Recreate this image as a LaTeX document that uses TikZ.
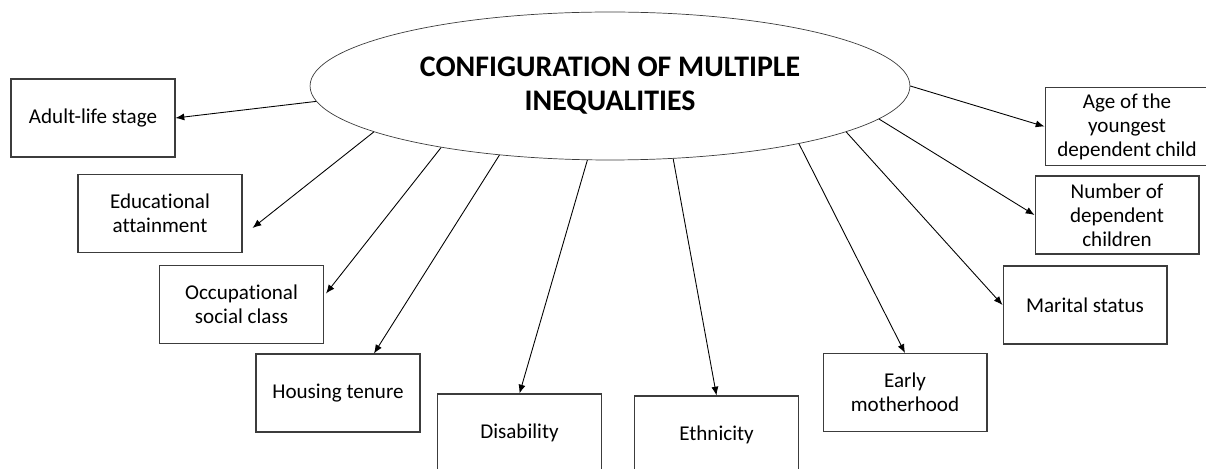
\documentclass[tikz,border=0pt]{standalone}
\usepackage{fontspec}
\setmainfont{Carlito}[Ligatures=NoCommon]
\usetikzlibrary{arrows.meta,calc,shapes.geometric}
\definecolor{boxgray}{RGB}{60,60,60}

\begin{document}
\begin{tikzpicture}[x=0.02cm,y=-0.02cm,
    factor/.style={draw=boxgray,line width=0.6pt,minimum width=3.28cm,minimum height=1.56cm,
      align=center,font=\fontsize{12}{13.6}\selectfont},
    link/.style={-{Latex[length=5pt,width=4pt]},line width=0.5pt}]
\useasboundingbox (0,0) rectangle (1206,469);

% Central ellipse
\node[draw=boxgray,ellipse,minimum width=12cm,minimum height=2.96cm,align=center,
  font=\fontsize{17}{19.3}\selectfont\bfseries] (conf) at (610,86)
  {CONFIGURATION OF MULTIPLE\\INEQUALITIES};

% Left side factors
\node[factor] (adult) at (93,118) {Adult-life stage};
\node[factor] (edu) at (160,213.5) {Educational\\attainment};
\node[factor] (occ) at (241.5,304.5) {Occupational\\social class};
\node[factor] (house) at (338,393) {Housing tenure};

% Bottom factors
\node[factor] (dis) at (519.5,433) {Disability};
\node[factor] (eth) at (716.5,435) {Ethnicity};
\node[factor] (early) at (905,392.5) {Early\\motherhood};

% Right side factors
\node[factor] (mar) at (1085,305) {Marital status};
\node[factor] (num) at (1117,215) {Number of\\dependent\\children};
\node[factor] (age) at (1127,126.5) {Age of the\\youngest\\dependent child};

% Arrows out of the ellipse
\draw[link] (conf.183) -- (adult.east);
\draw[link] (conf.191) -- ($(edu.east)+(10,14.5)$);
\draw[link] (conf.200) -- ($(occ.east)+(2,-11)$);
\draw[link] (conf.212) -- ($(house.north)+(36,0)$);
\draw[link] (conf.253) -- (dis.north);
\draw[link] (conf.311) -- (eth.north);
\draw[link] (conf.343) -- (early.north);
\draw[link] (conf.349) -- (mar.west);
\draw[link] (conf.353) -- (num.west);
\draw[link] (conf.0) -- (age.west);
\end{tikzpicture}
\end{document}
